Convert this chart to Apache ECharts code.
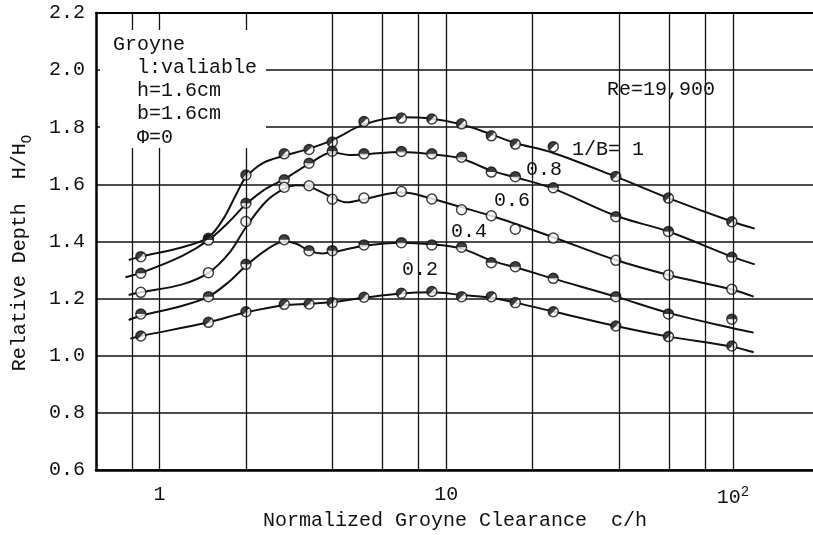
<!DOCTYPE html>
<html>
<head>
<meta charset="utf-8">
<script src="https://cdn.jsdelivr.net/npm/echarts@6/dist/echarts.min.js"></script>
<style>
  html, body { margin: 0; padding: 0; background: #fff; }
</style>
</head>
<body>
<div id="myChart" style="width: 813px; height: 535px;"></div>
<script>
  // measured c/h positions of the points (same for every 1/B)
  const pointX = [0.86, 1.48, 2.0, 2.72, 3.32, 4.0, 5.16, 6.97, 8.9, 11.3, 14.35, 17.4, 23.6, 39, 59.5, 99];

  const pts10 = [1.347, 1.411, 1.633, 1.707, 1.722, 1.748, 1.820, 1.832, 1.829, 1.812, 1.770, 1.741, 1.732, 1.628, 1.552, 1.469];
  const pts08 = [1.289, 1.405, 1.534, 1.616, 1.674, 1.716, 1.707, 1.715, 1.707, 1.695, 1.643, 1.627, 1.588, 1.487, 1.435, 1.345];
  const pts06 = [1.222, 1.291, 1.470, 1.590, 1.595, 1.548, 1.552, 1.575, 1.549, 1.511, 1.490, 1.443, 1.412, 1.334, 1.283, 1.233];
  const pts04 = [1.146, 1.207, 1.320, 1.406, 1.368, 1.368, 1.388, 1.396, 1.388, 1.380, 1.326, 1.312, 1.271, 1.207, 1.146, 1.128];
  const pts02 = [1.069, 1.117, 1.154, 1.180, 1.181, 1.186, 1.205, 1.219, 1.225, 1.207, 1.207, 1.186, 1.154, 1.104, 1.067, 1.034];

  // hand drawn fitted curves [c/h, H/Ho]
  const curve10 = [[0.78,1.335],[0.86,1.347],[1.2,1.38],[1.48,1.415],[1.67,1.48],[1.86,1.57],[2.0,1.625],[2.3,1.675],[2.72,1.70],[3.32,1.725],[4.0,1.755],[5.16,1.81],[6.97,1.835],[8.9,1.83],[11.3,1.81],[14.35,1.775],[17.4,1.745],[23.6,1.71],[39,1.627],[59.5,1.552],[99,1.47],[119,1.445]];
  const curve08 = [[0.76,1.275],[0.86,1.29],[1.2,1.35],[1.48,1.405],[1.75,1.47],[2.0,1.53],[2.35,1.585],[2.72,1.618],[3.32,1.672],[4.0,1.712],[4.6,1.703],[5.16,1.705],[6.97,1.713],[8.9,1.705],[11.3,1.69],[14.35,1.648],[17.4,1.625],[23.6,1.585],[39,1.49],[59.5,1.435],[99,1.347],[119,1.32]];
  const curve06 = [[0.78,1.213],[0.86,1.222],[1.2,1.25],[1.48,1.29],[1.75,1.36],[2.0,1.45],[2.35,1.54],[2.72,1.585],[3.0,1.597],[3.32,1.592],[4.0,1.555],[4.5,1.537],[5.16,1.548],[6.97,1.572],[8.9,1.55],[11.3,1.52],[14.35,1.49],[17.4,1.462],[23.6,1.415],[39,1.335],[59.5,1.283],[99,1.232],[118,1.207]];
  const curve04 = [[0.78,1.125],[0.86,1.14],[1.2,1.175],[1.48,1.207],[1.75,1.26],[2.0,1.315],[2.35,1.37],[2.72,1.40],[3.0,1.392],[3.32,1.368],[3.7,1.358],[4.0,1.362],[5.16,1.385],[6.97,1.396],[8.9,1.39],[11.3,1.375],[14.35,1.333],[17.4,1.31],[23.6,1.27],[39,1.207],[59.5,1.15],[99,1.097],[118,1.081]];
  const curve02 = [[0.79,1.06],[0.86,1.069],[1.48,1.117],[2.0,1.152],[2.72,1.177],[3.32,1.182],[4.0,1.188],[5.16,1.203],[6.97,1.218],[8.9,1.222],[11.3,1.213],[14.35,1.203],[17.4,1.186],[23.6,1.155],[39,1.104],[59.5,1.067],[99,1.032],[118,1.012]];

  const gridX = [0.8, 1, 2, 4, 6, 8, 10, 20, 40, 60, 80, 100];

  const FONT = '"Liberation Mono", "DejaVu Sans Mono", monospace';
  const INK = '#111';

  // marker fills (the extra M points keep the box square)
  const halfTop = 'path://M0,10 A10,10 0 0 1 20,10 Z M0,20 L0,20';
  const slash = 'path://M2.93,17.07 A10,10 0 0 1 17.07,2.93 Z M0,0 L0,0 M20,20 L20,20';

  function pairs(vals) {
    return pointX.map(function (x, i) { return [x, vals[i]]; });
  }

  function curve(data) {
    return {
      type: 'line', data: data, smooth: 0.35, showSymbol: false, z: 2,
      lineStyle: { color: INK, width: 2 }
    };
  }

  function ring(vals) {
    return {
      type: 'scatter', data: pairs(vals), symbol: 'circle', symbolSize: 10, z: 3,
      itemStyle: { color: '#fff', borderColor: INK, borderWidth: 1.5 }
    };
  }

  function fill(vals, sym) {
    return {
      type: 'scatter', data: pairs(vals), symbol: sym, symbolSize: 10, z: 4,
      itemStyle: { color: INK, borderWidth: 0 }
    };
  }

  function txt(s, x, y) {
    return {
      type: 'text', x: x, y: y, z: 60,
      style: { text: s, fontFamily: FONT, fontSize: 20, fill: INK, verticalAlign: 'middle' }
    };
  }

  let myChart = echarts.init(document.getElementById('myChart'));

  let first = curve(curve10);
  first.markLine = {
    silent: true, symbol: 'none', animation: false,
    label: { show: false },
    lineStyle: { color: INK, width: 1.3, type: 'solid' },
    data: gridX.map(function (v) { return { xAxis: v }; })
  };

  myChart.setOption({
    animation: false,
    grid: { left: 96, right: 0, top: 13, bottom: 65 },
    xAxis: [
      {
        type: 'log', logBase: 10, min: 0.6, max: 190, position: 'bottom',
        axisLine: { lineStyle: { color: '#000', width: 2.5 } },
        axisTick: { show: false },
        splitLine: { show: false },
        axisLabel: {
          color: INK, fontFamily: FONT, fontSize: 20, margin: 15,
          showMinLabel: false, showMaxLabel: false,
          formatter: function (v) {
            let r = Math.round(v);
            return r === 100 ? '10{sup|2}' : String(r);
          },
          rich: { sup: { fontFamily: FONT, fontSize: 14, verticalAlign: 'top', lineHeight: 26 } }
        }
      },
      {
        type: 'log', logBase: 10, min: 0.6, max: 190, position: 'top',
        axisLine: { lineStyle: { color: '#000', width: 2 } },
        axisTick: { show: false }, axisLabel: { show: false }, splitLine: { show: false }
      }
    ],
    yAxis: {
      type: 'value', min: 0.6, max: 2.2, interval: 0.2,
      axisLine: { show: true, lineStyle: { color: '#000', width: 2.5 } },
      axisTick: { show: false },
      splitLine: { lineStyle: { color: INK, width: 1.5 } },
      axisLabel: {
        color: INK, fontFamily: FONT, fontSize: 20, margin: 11,
        formatter: function (v) { return v.toFixed(1); }
      }
    },
    series: [
      first, curve(curve08), curve(curve06), curve(curve04), curve(curve02),
      ring(pts10), ring(pts08), ring(pts06), ring(pts04), ring(pts02),
      fill(pts10, slash), fill(pts08, halfTop), fill(pts04, halfTop), fill(pts02, slash)
    ],
    graphic: [
      { type: 'rect', z: 50, shape: { x: 100, y: 30, width: 166, height: 118 }, style: { fill: '#fff' } },
      txt('Groyne', 113, 45),
      txt('l:valiable', 137, 68),
      txt('h=1.6cm', 137, 91),
      txt('b=1.6cm', 137, 114),
      txt('\u03a6=0', 137, 138),
      txt('Re=19,900', 607, 90),
      txt('1/B= 1', 572, 150),
      txt('0.8', 526, 170),
      txt('0.6', 494, 201),
      txt('0.4', 451, 232),
      txt('0.2', 402, 270),
      {
        type: 'text', x: 455, y: 521, z: 60,
        style: { text: 'Normalized Groyne Clearance  c/h', fontFamily: FONT, fontSize: 20, fill: INK, align: 'center', verticalAlign: 'middle' }
      },
      {
        type: 'text', x: 20, y: 253, rotation: Math.PI / 2, z: 60,
        style: {
          text: 'Relative Depth  H/H{sub|O}', fontFamily: FONT, fontSize: 20, fill: INK,
          align: 'center', verticalAlign: 'middle', lineHeight: 28,
          rich: { sub: { fontFamily: FONT, fontSize: 14, fill: INK, verticalAlign: 'bottom', lineHeight: 14 } }
        }
      }
    ]
  });
</script>
</body>
</html>
